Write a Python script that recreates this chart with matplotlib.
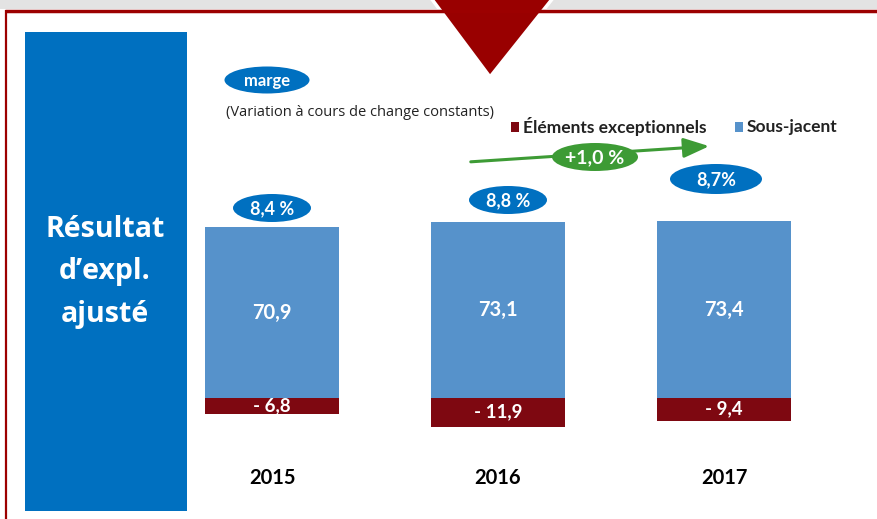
import matplotlib
matplotlib.use("Agg")
import matplotlib.pyplot as plt
from matplotlib.patches import Ellipse, Rectangle, Polygon, FancyArrowPatch

# data
years = ["2015", "2016", "2017"]
sous_jacent = [70.9, 73.1, 73.4]
exceptionnels = [-6.8, -11.9, -9.4]
sj_labels = ["70,9", "73,1", "73,4"]
exc_labels = ["- 6,8", "- 11,9", "- 9,4"]
marges = ["8,4 %", "8,8 %", "8,7%"]
variation = "+1,0 %"

BLUE_BAR = "#5692CB"
RED_BAR = "#7E0811"
PANEL = "#0070C0"
GREEN = "#3D9B35"
DARKRED = "#9C0000"
NARROW = ["Lato", "DejaVu Sans"]
W, H = 877, 519

fig = plt.figure(figsize=(W / 100, H / 100), dpi=100)

# bar axes placed in pixel space: zero line at y=398, 2.41 px per unit
top_px, bot_px = 200, 440
ax = fig.add_axes([159 / W, (H - bot_px) / H, 678 / W, (bot_px - top_px) / H], zorder=1)
ax.set_xlim(-0.5, 2.5)
ax.set_ylim(-(bot_px - 398) / 2.41, (398 - top_px) / 2.41)
ax.axis("off")
x = range(len(years))
ax.bar(x, sous_jacent, width=0.595, color=BLUE_BAR)
ax.bar(x, exceptionnels, width=0.595, color=RED_BAR)
for i in x:
    ax.text(i, sous_jacent[i] * 0.5, sj_labels[i], ha="center", va="center",
            color="white", fontsize=14.5, fontweight="bold", family=NARROW)
    ax.text(i, exceptionnels[i] * 0.5 + 0.3, exc_labels[i], ha="center", va="center",
            color="white", fontsize=13.5, fontweight="bold", family=NARROW)
    ax.text(i, -33, years[i], ha="center", va="center", color="black",
            fontsize=14.5, fontweight="bold", family=NARROW, clip_on=False)

# overlay axes in pixel coordinates for the slide decoration
ov = fig.add_axes([0, 0, 1, 1], zorder=2)
ov.set_xlim(0, W)
ov.set_ylim(H, 0)
ov.axis("off")
ov.patch.set_alpha(0)

ov.add_patch(Rectangle((0, 0), W, 9, color="#E3E3E3", lw=0))
ov.plot([5, W], [10.5, 10.5], color=DARKRED, lw=2.5, solid_capstyle="butt")
ov.plot([5.5, 5.5], [10, H], color=DARKRED, lw=1.6, solid_capstyle="butt")
ov.add_patch(Polygon([(431, -2), (553, -2), (490, 77)], closed=True,
                     facecolor="#990000", edgecolor="white", lw=2.5))

ov.add_patch(Rectangle((25, 32), 162, H - 32 - 8, color=PANEL, lw=0))
ov.text(105, 272, "Résultat\nd’expl.\najusté", ha="center", va="center",
        color="white", fontsize=20.5, fontweight="bold", family="Open Sans",
        linespacing=1.6)

def pill(cx, cy, w, h, txt, color, fs):
    ov.add_patch(Ellipse((cx, cy), w, h, color=color, lw=0))
    ov.text(cx, cy + 1, txt, ha="center", va="center", color="white",
            fontsize=fs, fontweight="bold", family=NARROW)

pill(267, 80, 85, 27, "marge", PANEL, 12)
ov.text(226, 112, "(Variation à cours de change constants)", ha="left", va="center",
        fontsize=10.5, color="#222222", family="Open Sans")

# legend
ov.add_patch(Rectangle((511, 122), 8, 10, color=RED_BAR, lw=0))
ov.text(523, 127, "Éléments exceptionnels", ha="left", va="center",
        fontsize=12.5, fontweight="bold", family=NARROW, color="#222222")
ov.add_patch(Rectangle((735, 122), 8, 10, color=BLUE_BAR, lw=0))
ov.text(747, 127, "Sous-jacent", ha="left", va="center",
        fontsize=12.5, fontweight="bold", family=NARROW, color="#222222")

# trend arrow
ov.add_patch(FancyArrowPatch((468, 162), (712, 146),
                             arrowstyle="-|>,head_length=1.3,head_width=0.5",
                             color=GREEN, lw=2.2, mutation_scale=12))
pill(595, 157, 86, 28, variation, GREEN, 14)

# margin pills
pill_pos = [(272, 208, 78, 28), (508, 200, 78, 28), (716, 179, 92, 30)]
for (cx, cy, w, h), m in zip(pill_pos, marges):
    pill(cx, cy, w, h, m, PANEL, 13)

fig.savefig("out.png", dpi=100)
